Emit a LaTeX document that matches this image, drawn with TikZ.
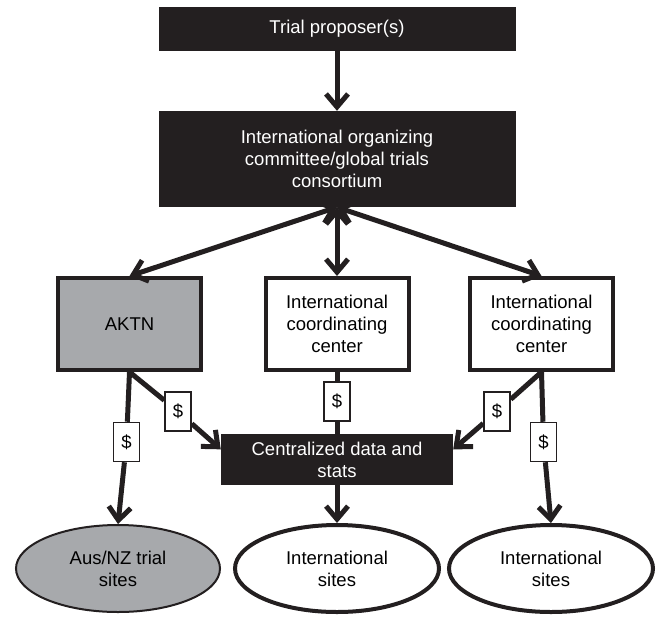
\documentclass[tikz,border=0pt]{standalone}
\usepackage{fontspec}
\setmainfont{Liberation Sans}
\usetikzlibrary{arrows.meta,shapes.geometric}
\definecolor{ink}{HTML}{231F20}
\definecolor{aktnfill}{HTML}{A7A9AC}
\tikzset{
  txt/.style={font=\fontsize{18.5}{22}\selectfont},
  dark/.style={fill=ink, text=white, align=center, inner sep=0pt},
  panel/.style={draw=ink, line width=4pt, fill=white, align=center, inner sep=0pt,
    minimum width=143pt, minimum height=92pt},
  site/.style={ellipse, draw=ink, line width=4pt, fill=white, align=center, inner sep=0pt,
    minimum width=204pt, minimum height=87pt},
  fee/.style={draw=ink, line width=1.5pt, fill=white, inner sep=0pt,
    minimum width=26pt, minimum height=39pt},
  flow/.style={line width=5pt, draw=ink, ->},
  both/.style={line width=5pt, draw=ink, <->},
  link/.style={line width=5pt, draw=ink}
}

\begin{document}
\begin{tikzpicture}[x=1pt, y=-1pt, every node/.style={txt},
    >={Straight Barb[length=13pt,width=22pt]}]
  \useasboundingbox (0,0) rectangle (660,616);

  % Proposers and committee
  \node[dark, minimum width=357pt, minimum height=44pt] (prop) at (337,29) {Trial proposer(s)};
  \node[dark, minimum width=357pt, minimum height=96pt] (ioc) at (337,159)
    {International organizing\\committee/global trials\\consortium};
  \draw[flow] (prop) -- (ioc);

  % Networks
  \node[panel, fill=aktnfill] (aktn) at (129.5,324) {AKTN};
  \node[panel] (icca) at (337,324) {International\\coordinating\\center};
  \node[panel] (iccb) at (541.5,324) {International\\coordinating\\center};
  \draw[both] (ioc.south) -- (aktn.north);
  \draw[both] (ioc.south) -- (icca.north);
  \draw[both] (ioc.south) -- (iccb.north);

  % Data centre and sites
  \node[dark, minimum width=232pt, minimum height=51pt] (cds) at (337,459.5)
    {Centralized data and\\stats};
  \node[site, fill=aktnfill, line width=2pt] (aus) at (118,568.5) {Aus/NZ trial\\sites};
  \node[site] (inta) at (337,568.5) {International\\sites};
  \node[site] (intb) at (551,568.5) {International\\sites};

  % Funding
  \node[fee] (d1) at (126.5,442) {\$};
  \node[fee] (d2) at (178,411.5) {\$};
  \node[fee] (d3) at (337,401.5) {\$};
  \node[fee] (d4) at (497,411.5) {\$};
  \node[fee] (d5) at (543.5,442) {\$};
  \draw[link] (aktn.south) -- (d1);
  \draw[flow] (d1) -- (aus.north);
  \draw[link] (aktn.south) -- (d2);
  \draw[flow] (d2) -- (cds.175);
  \draw[link] (icca) -- (d3);
  \draw[link] (d3) -- (cds);
  \draw[link] (iccb.south) -- (d4);
  \draw[flow] (d4) -- (cds.5);
  \draw[link] (iccb.south) -- (d5);
  \draw[flow] (d5) -- (intb.north);
  \draw[flow] (cds) -- (inta.north);
\end{tikzpicture}
\end{document}
